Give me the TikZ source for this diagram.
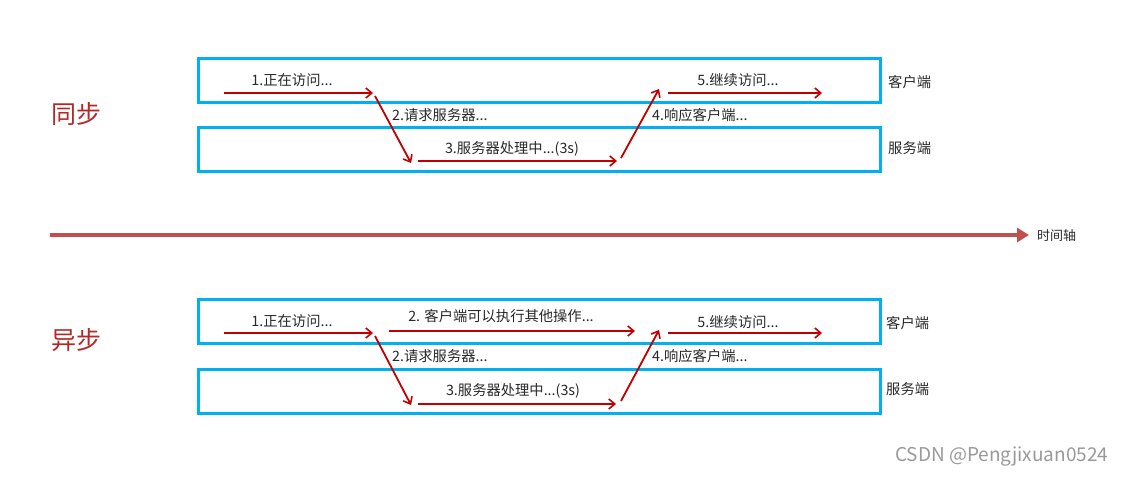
\documentclass[tikz,border=0pt]{standalone}
\usepackage{fontspec}
\setmainfont{Noto Sans CJK SC}
\newfontfamily\cjk{Noto Sans CJK SC}
\usetikzlibrary{arrows.meta}
\definecolor{boxblue}{RGB}{0,176,240}
\definecolor{arrred}{RGB}{192,0,0}
\definecolor{titred}{RGB}{180,40,40}
\definecolor{axisred}{RGB}{192,80,77}
\definecolor{txt}{RGB}{40,40,40}
\tikzset{
  lane/.style={draw=boxblue, line width=3pt, minimum width=682pt, minimum height=44pt, inner sep=0pt, anchor=north west},
  flow/.style={draw=arrred, line width=1.8pt, -{Straight Barb[length=6pt,width=10pt,line width=1.6pt]}},
  lbl/.style={font=\fontsize{14.3}{16}\selectfont, text=txt, inner sep=0pt},
  side/.style={font=\fontsize{14.3}{16}\selectfont, text=txt, inner sep=0pt, anchor=west},
  title/.style={font=\fontsize{25}{28}\selectfont, text=titred, inner sep=0pt},
}
\begin{document}
\begin{tikzpicture}[x=1pt,y=-1pt]
\useasboundingbox (0,0) rectangle (1123,476);
% ---------- synchronous ----------
\node[title] (t1) at (76,114) {同步};
\node[lane] (c1) at (197,57) {};
\node[lane] (s1) at (197,126) {};
\node[side] (cl1) at (888,82) {客户端};
\node[side] (sl1) at (888,148) {服务端};
\coordinate (a1s) at (224,93); \coordinate (a1e) at (373,93);
\coordinate (a2s) at (375,96); \coordinate (a2e) at (411,163);
\coordinate (a3s) at (418,161); \coordinate (a3e) at (617,161);
\coordinate (a4s) at (621,158); \coordinate (a4e) at (659,89);
\coordinate (a5s) at (668,93); \coordinate (a5e) at (822,93);
\draw[flow] (a1s) -- (a1e);
\draw[flow] (a2s) -- (a2e);
\draw[flow] (a3s) -- (a3e);
\draw[flow] (a4s) -- (a4e);
\draw[flow] (a5s) -- (a5e);
\node[lbl] (l1) at (292,80) {1.正在访问...};
\node[lbl,anchor=west] (l2) at (392,115) {2.请求服务器...};
\node[lbl] (l3) at (512,149) {3.服务器处理中...(3s)};
\node[lbl,anchor=west] (l4) at (652,115) {4.响应客户端...};
\node[lbl] (l5) at (738,80) {5.继续访问...};
% ---------- time axis ----------
\coordinate (ax0) at (50,235); \coordinate (ax1) at (1029,235);
\draw[draw=axisred, line width=4.5pt, -{Triangle[length=12pt,width=14pt]}] (ax0) -- (ax1);
\node[side,font=\fontsize{13}{15}\selectfont] (axl) at (1037,236) {时间轴};
% ---------- asynchronous ----------
\node[title] (t2) at (76,340) {异步};
\node[lane] (c2) at (197,298) {};
\node[lane] (s2) at (197,368) {};
\node[side] (cl2) at (886,323) {客户端};
\node[side] (sl2) at (886,389) {服务端};
\coordinate (b1s) at (224,333); \coordinate (b1e) at (373,333);
\coordinate (b2s) at (375,336); \coordinate (b2e) at (411,405);
\coordinate (b6s) at (389,331); \coordinate (b6e) at (635,331);
\coordinate (b3s) at (418,404); \coordinate (b3e) at (616,404);
\coordinate (b4s) at (621,401); \coordinate (b4e) at (659,330);
\coordinate (b5s) at (668,333); \coordinate (b5e) at (822,333);
\draw[flow] (b1s) -- (b1e);
\draw[flow] (b2s) -- (b2e);
\draw[flow] (b6s) -- (b6e);
\draw[flow] (b3s) -- (b3e);
\draw[flow] (b4s) -- (b4e);
\draw[flow] (b5s) -- (b5e);
\node[lbl] (m1) at (292,321) {1.正在访问...};
\node[lbl] (m6) at (501,316) {2. 客户端可以执行其他操作...};
\node[lbl,anchor=west] (m2) at (392,356) {2.请求服务器...};
\node[lbl] (m3) at (513,391) {3.服务器处理中...(3s)};
\node[lbl,anchor=west] (m4) at (652,356) {4.响应客户端...};
\node[lbl] (m5) at (738,322) {5.继续访问...};
% watermark
\node[font=\fontsize{19}{21}\selectfont, text=gray!80, inner sep=0pt, anchor=west] (wm) at (895,457) {CSDN @Pengjixuan0524};
\end{tikzpicture}
\end{document}
